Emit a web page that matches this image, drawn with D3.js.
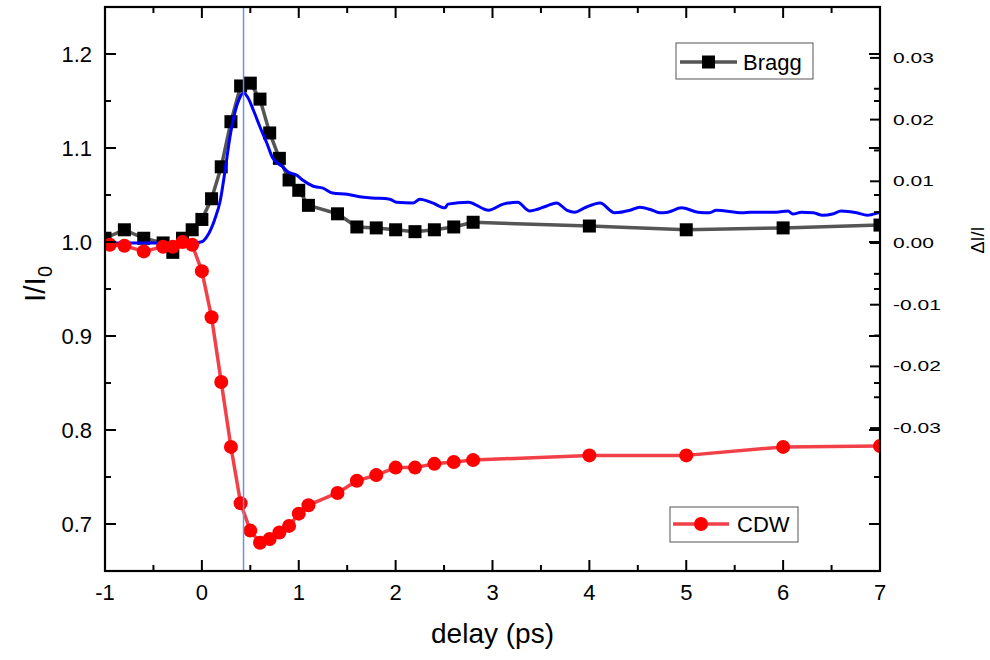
<!DOCTYPE html>
<html><head><meta charset="utf-8">
<script src="https://cdn.jsdelivr.net/npm/d3@7"></script>
<style>html,body{margin:0;padding:0;background:#fff;} svg{display:block;font-family:"Liberation Sans",Arial,sans-serif;}</style>
</head><body>
<svg id="chart" width="990" height="660"></svg>
<script>
// ---------- data ----------
const braggDelay = [-1, -0.8, -0.6, -0.4, -0.3, -0.2, -0.1, 0, 0.1, 0.2, 0.3, 0.4, 0.5, 0.6, 0.7, 0.8, 0.9, 1.0, 1.1, 1.4, 1.6, 1.8, 2.0, 2.2, 2.4, 2.6, 2.8, 4, 5, 6, 7];
const braggI = [1.004, 1.013, 1.004, 0.999, 0.989, 1.004, 1.013, 1.024, 1.046, 1.080, 1.128, 1.166, 1.169, 1.152, 1.116, 1.089, 1.066, 1.055, 1.039, 1.030, 1.016, 1.015, 1.013, 1.011, 1.013, 1.016, 1.021, 1.017, 1.013, 1.015, 1.018];
const cdwDelay = [-0.95, -0.8, -0.6, -0.4, -0.3, -0.2, -0.1, 0, 0.1, 0.2, 0.3, 0.4, 0.5, 0.6, 0.7, 0.8, 0.9, 1.0, 1.1, 1.4, 1.6, 1.8, 2.0, 2.2, 2.4, 2.6, 2.8, 4, 5, 6, 7];
const cdwI = [0.997, 0.996, 0.990, 0.995, 0.995, 1.000, 0.997, 0.969, 0.920, 0.851, 0.782, 0.722, 0.693, 0.680, 0.684, 0.691, 0.698, 0.711, 0.720, 0.733, 0.746, 0.752, 0.760, 0.760, 0.764, 0.766, 0.768, 0.773, 0.773, 0.782, 0.783];
const diffDelay = [-1.0, -0.5, -0.1, 0.0, 0.05, 0.13, 0.19, 0.24, 0.29, 0.34, 0.39, 0.43, 0.47, 0.53, 0.60, 0.67, 0.73, 0.83, 0.89, 0.98, 1.04, 1.15, 1.25, 1.35, 1.50, 1.63, 1.76, 1.94, 2.01, 2.18, 2.25, 2.38, 2.51, 2.54, 2.75, 2.96, 3.11, 3.26, 3.38, 3.56, 3.66, 3.77, 3.85, 3.95, 4.11, 4.26, 4.42, 4.52, 4.65, 4.73, 4.81, 4.95, 5.12, 5.24, 5.31, 5.58, 5.66, 5.93, 6.05, 6.10, 6.19, 6.31, 6.41, 6.51, 6.60, 6.76, 6.87, 6.98, 7.0];
const diffSignal = [0.0, 0.0, 0.0, 0.0002, 0.0010, 0.0037, 0.0069, 0.0118, 0.0172, 0.0211, 0.0235, 0.0243, 0.0237, 0.0216, 0.0188, 0.0162, 0.0138, 0.0124, 0.0115, 0.0110, 0.0102, 0.0092, 0.0089, 0.0081, 0.0079, 0.0075, 0.0073, 0.0071, 0.0066, 0.0065, 0.0071, 0.0065, 0.0057, 0.0063, 0.0066, 0.0053, 0.0063, 0.0066, 0.0052, 0.0060, 0.0065, 0.0053, 0.0050, 0.0057, 0.0065, 0.0049, 0.0053, 0.0058, 0.0053, 0.0049, 0.0050, 0.0057, 0.0050, 0.0049, 0.0053, 0.0049, 0.0050, 0.0050, 0.0052, 0.0047, 0.0050, 0.0049, 0.0045, 0.0047, 0.0052, 0.0049, 0.0045, 0.0049, 0.0050];
const markerDelay = [0.43];
const xTicks = [-1, 0, 1, 2, 3, 4, 5, 6, 7];
const xMinorTicks = [-0.5, 0.5, 1.5, 2.5, 3.5, 4.5, 5.5, 6.5];
const yLeftTicks = [0.7, 0.8, 0.9, 1.0, 1.1, 1.2];
const yLeftMinorTicks = [0.75, 0.85, 0.95, 1.05, 1.15];
const yRightTicks = [-0.03, -0.02, -0.01, 0.0, 0.01, 0.02, 0.03];
const yRightMinorTicks = [-0.025, -0.015, -0.005, 0.005, 0.015, 0.025];
const seriesNames = ["Bragg", "CDW"];

// ---------- layout ----------
const svg = d3.select("#chart");
const L = 105, R = 880, T = 7, B = 571;
const x = d3.scaleLinear().domain([-1, 7]).range([L, R]);
const yL = d3.scaleLinear().domain([0.65, 1.25]).range([B, T]);
const yR = d3.scaleLinear().domain([-0.05316, 0.03825]).range([B, T]);

svg.append("defs").append("clipPath").attr("id", "clip")
  .append("rect").attr("x", L).attr("y", T).attr("width", R - L).attr("height", B - T);
const plot = svg.append("g").attr("clip-path", "url(#clip)");

// Bragg
const braggData = braggDelay.map((d, i) => [d, braggI[i]]);
plot.append("path").datum(braggData)
  .attr("d", d3.line().x(d => x(d[0])).y(d => yL(d[1])))
  .attr("fill", "none").attr("stroke", "#555555").attr("stroke-width", 3.5).attr("stroke-linejoin", "round");
plot.selectAll("rect.bragg").data(braggData).enter().append("rect").attr("class", "bragg")
  .attr("x", d => x(d[0]) - 6.5).attr("y", d => yL(d[1]) - 6.5)
  .attr("width", 13).attr("height", 13).attr("fill", "#000");

// Difference signal (right axis)
const diffData = diffDelay.map((d, i) => [d, diffSignal[i]]);
plot.append("path").datum(diffData)
  .attr("d", d3.line().curve(d3.curveMonotoneX).x(d => x(d[0])).y(d => yR(d[1])))
  .attr("fill", "none").attr("stroke", "#0000ff").attr("stroke-width", 3).attr("stroke-linejoin", "round");

// CDW
const cdwData = cdwDelay.map((d, i) => [d, cdwI[i]]);
plot.append("path").datum(cdwData)
  .attr("d", d3.line().x(d => x(d[0])).y(d => yL(d[1])))
  .attr("fill", "none").attr("stroke", "#f24048").attr("stroke-width", 3.5).attr("stroke-linejoin", "round");
plot.selectAll("circle.cdw").data(cdwData).enter().append("circle").attr("class", "cdw")
  .attr("cx", d => x(d[0])).attr("cy", d => yL(d[1])).attr("r", 7).attr("fill", "#ff0000");

// vertical marker
plot.selectAll("line.marker").data(markerDelay).enter().append("line").attr("class", "marker")
  .attr("x1", d => x(d)).attr("x2", d => x(d)).attr("y1", T).attr("y2", B)
  .attr("stroke", "#6f93d8").attr("stroke-width", 1.5);

// ---------- axes ----------
const ax = svg.append("g");
function ticks(sel, vals, fn, len) {
  sel.selectAll(null).data(vals).enter().append("line")
    .attr("stroke", "#000").attr("stroke-width", 2)
    .each(function(v){ const c = fn(v, len); d3.select(this).attr("x1", c[0]).attr("y1", c[1]).attr("x2", c[2]).attr("y2", c[3]); });
}
const MAJ = 11, MIN = 6;
// bottom & top
ticks(ax, xTicks, (v, l) => [x(v), B, x(v), B - l], MAJ);
ticks(ax, xMinorTicks, (v, l) => [x(v), B, x(v), B - l], MIN);
ticks(ax, xTicks, (v, l) => [x(v), T, x(v), T + l], MAJ);
ticks(ax, xMinorTicks, (v, l) => [x(v), T, x(v), T + l], MIN);
// left & mirrored on right
ticks(ax, yLeftTicks, (v, l) => [L, yL(v), L + l, yL(v)], MAJ);
ticks(ax, yLeftMinorTicks, (v, l) => [L, yL(v), L + l, yL(v)], MIN);
ticks(ax, yLeftTicks, (v, l) => [R, yL(v), R - l, yL(v)], MAJ);
ticks(ax, yLeftMinorTicks, (v, l) => [R, yL(v), R - l, yL(v)], MIN);
// right axis own ticks
ticks(ax, yRightTicks, (v, l) => [R, yR(v), R - l, yR(v)], 10);
ticks(ax, yRightMinorTicks, (v, l) => [R, yR(v), R - l, yR(v)], MIN);

ax.append("rect").attr("x", L).attr("y", T).attr("width", R - L).attr("height", B - T)
  .attr("fill", "none").attr("stroke", "#000").attr("stroke-width", 2.2);

// tick labels
const fmt1 = d3.format(".1f");
ax.selectAll(null).data(xTicks).enter().append("text")
  .attr("x", d => x(d)).attr("y", 600).attr("text-anchor", "middle")
  .attr("font-size", 22).attr("fill", "#000").text(d => d);
ax.selectAll(null).data(yLeftTicks).enter().append("text")
  .attr("x", 92).attr("y", d => yL(d) + 8).attr("text-anchor", "end")
  .attr("font-size", 22).attr("fill", "#000").text(d => fmt1(d));
const fmt2 = d3.format(".2f");
ax.selectAll(null).data(yRightTicks).enter().append("text")
  .attr("transform", d => `translate(893,${yR(d) + 5}) scale(1.5,1)`)
  .attr("font-size", 14).attr("fill", "#000").text(d => fmt2(d).replace("−", "-"));

// axis titles
svg.append("text").attr("x", (L + R) / 2).attr("y", 643).attr("text-anchor", "middle")
  .attr("font-size", 28).attr("fill", "#000").text("delay (ps)");
const yt = svg.append("text").attr("transform", "translate(45,284) rotate(-90)")
  .attr("text-anchor", "middle").attr("font-size", 30).attr("fill", "#000");
yt.append("tspan").text("I/I");
yt.append("tspan").attr("font-size", 20).attr("dy", 7).text("0");
svg.append("text").attr("transform", "translate(984,240) rotate(-90)")
  .attr("text-anchor", "middle").attr("font-size", 18).attr("fill", "#000").text("ΔI/I");

// ---------- legends ----------
const lg1 = svg.append("g");
lg1.append("rect").attr("x", 676).attr("y", 43).attr("width", 137).attr("height", 36)
  .attr("fill", "#fff").attr("stroke", "#555").attr("stroke-width", 1);
lg1.append("line").attr("x1", 680).attr("x2", 737).attr("y1", 62).attr("y2", 62)
  .attr("stroke", "#555555").attr("stroke-width", 3.5);
lg1.append("rect").attr("x", 702).attr("y", 55.5).attr("width", 13).attr("height", 13).attr("fill", "#000");
lg1.append("text").attr("x", 743).attr("y", 70).attr("font-size", 22).attr("fill", "#000").text(seriesNames[0]);

const lg2 = svg.append("g");
lg2.append("rect").attr("x", 670).attr("y", 507).attr("width", 128).attr("height", 35)
  .attr("fill", "#fff").attr("stroke", "#555").attr("stroke-width", 1);
lg2.append("line").attr("x1", 673).attr("x2", 729).attr("y1", 524).attr("y2", 524)
  .attr("stroke", "#f24048").attr("stroke-width", 3.5);
lg2.append("circle").attr("cx", 701).attr("cy", 524).attr("r", 7).attr("fill", "#ff0000");
lg2.append("text").attr("x", 737).attr("y", 532).attr("font-size", 22).attr("fill", "#000").text(seriesNames[1]);
</script>
</body></html>
